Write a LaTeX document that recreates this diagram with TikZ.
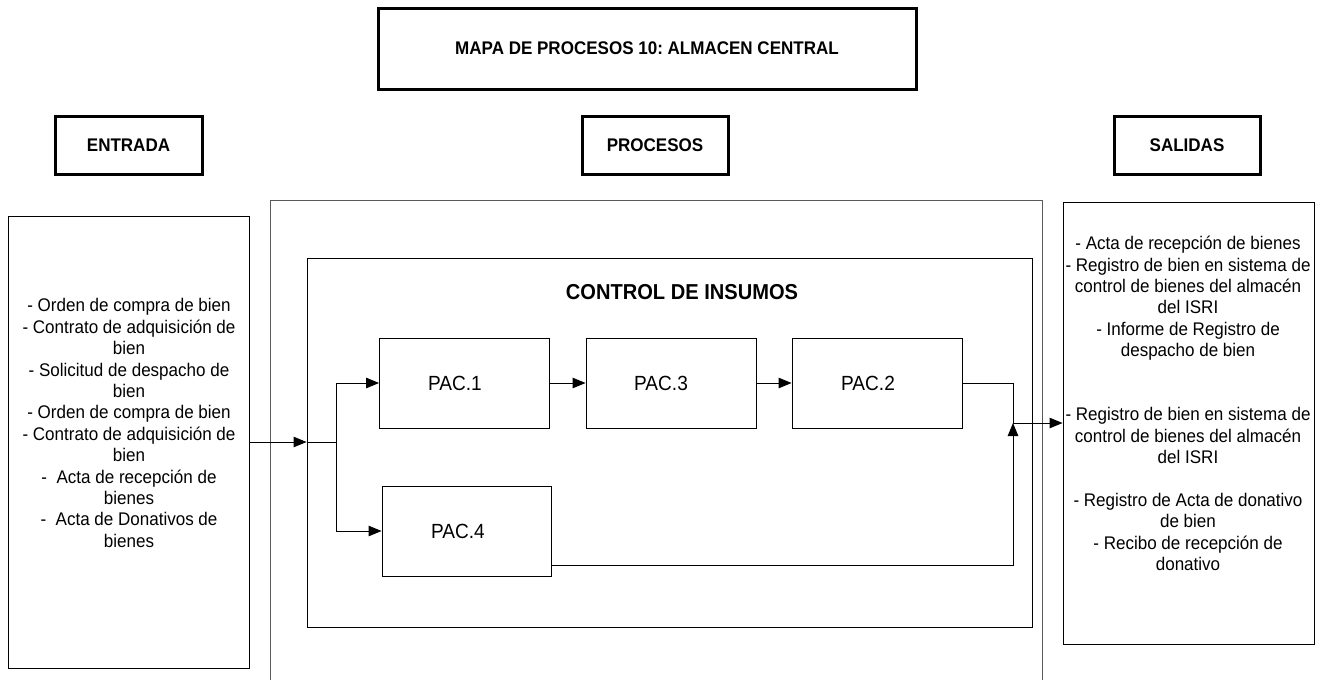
\documentclass[tikz,border=0pt]{standalone}
\usepackage{fontspec}
% slightly narrowed Arial-metric face, sizes raised to keep the line widths
\setmainfont{Liberation Sans}[FakeStretch=0.93]
\frenchspacing
\usetikzlibrary{arrows.meta,calc}

\tikzset{
  thickbox/.style={draw=black, line width=3pt, inner sep=0pt},
  thinbox/.style={draw=black, line width=0.9pt, inner sep=0pt},
  pacbox/.style={thinbox, minimum width=170pt, minimum height=90pt},
  listtext/.style={align=center, inner sep=0pt, font=\fontsize{18.3}{21.4}\selectfont},
  headtext/.style={inner sep=0pt, font=\fontsize{18.3}{21}\selectfont\bfseries},
  pactext/.style={inner sep=0pt, font=\fontsize{20.5}{24}\selectfont},
  link/.style={line width=0.9pt, draw=black},
  arr/.style={link, -{Triangle[length=13pt, width=10.5pt]}},
}

\begin{document}
\begin{tikzpicture}[x=1pt, y=-1pt]
\useasboundingbox (0,0) rectangle (1320,680);
\fill[white] (0,0) rectangle (1320,680);

% title and column headers
\node[thickbox, minimum width=538pt, minimum height=81pt] (title) at (647,48.5) {};
\node[headtext] (titletxt) at (647,48.5) {MAPA DE PROCESOS 10: ALMACEN CENTRAL};

\node[thickbox, minimum width=147pt, minimum height=58pt] (hin) at (128.5,145) {};
\node[headtext] (hintxt) at (128.5,145) {ENTRADA};
\node[thickbox, minimum width=146pt, minimum height=58pt] (hproc) at (655,145) {};
\node[headtext] (hproctxt) at (655,145) {PROCESOS};
\node[thickbox, minimum width=146pt, minimum height=58pt] (hout) at (1187,145) {};
\node[headtext] (houttxt) at (1187,145) {SALIDAS};

% inputs column
\node[thinbox, minimum width=241pt, minimum height=452pt] (inbox) at (128.5,442) {};
\node[listtext] (intxt) at (129,423) {%
- Orden de compra de bien\\
- Contrato de adquisición de\\
bien\\
- Solicitud de despacho de\\
bien\\
- Orden de compra de bien\\
- Contrato de adquisición de\\
bien\\
-\ \ Acta de recepción de\\
bienes\\
-\ \ Acta de Donativos de\\
bienes};

% process area (open at the bottom)
\coordinate (procbl) at (270,684);
\coordinate (proctl) at (270,200);
\coordinate (proctr) at (1042,200);
\coordinate (procbr) at (1042,684);
\draw[line width=0.9pt, black!65] (procbl) -- (proctl) -- (proctr) -- (procbr);

\node[thinbox, minimum width=725pt, minimum height=369pt] (ctrl) at (669.5,442.5) {};
\node[inner sep=0pt, font=\fontsize{21.6}{25}\selectfont\bfseries] (ctrltxt) at (682,292) {CONTROL DE INSUMOS};

\node[pacbox] (pac1) at (464.5,383) {};
\node[pactext] (pac1txt) at (455,383) {PAC.1};
\node[pacbox] (pac3) at (671,383) {};
\node[pactext] (pac3txt) at (661,383) {PAC.3};
\node[pacbox] (pac2) at (877,383) {};
\node[pactext] (pac2txt) at (868,383) {PAC.2};
\node[pacbox, minimum width=169pt] (pac4) at (466.5,531) {};
\node[pactext] (pac4txt) at (458,531) {PAC.4};

% outputs column
\node[thinbox, minimum width=251pt, minimum height=442pt] (outbox) at (1188.5,423) {};
\node[listtext] (outtxt) at (1188,403.5) {%
- Acta de recepción de bienes\\
- Registro de bien en sistema de\\
control de bienes del almacén\\
del ISRI\\
- Informe de Registro de\\
despacho de bien\\[42.8pt]
- Registro de bien en sistema de\\
control de bienes del almacén\\
del ISRI\\[21.4pt]
- Registro de Acta de donativo\\
de bien\\
- Recibo de recepción de\\
donativo};

% connectors
\coordinate (split) at (336,442);
\coordinate (merge) at (1013,423);
\coordinate (p4out) at (pac4.east |- 0,565);

\draw[arr] (inbox.east) -- (inbox.east -| ctrl.west);
\draw[link] (inbox.east -| ctrl.west) -- (split);
\draw[arr] (split) |- (pac1.west);
\draw[arr] (split) |- (pac4.west);
\draw[arr] (pac1.east) -- (pac3.west);
\draw[arr] (pac3.east) -- (pac2.west);
\draw[link] (pac2.east) -| (merge);
\draw[arr] (p4out) -| (merge);
\draw[arr] (merge) -- (merge -| outbox.west);
\end{tikzpicture}
\end{document}
